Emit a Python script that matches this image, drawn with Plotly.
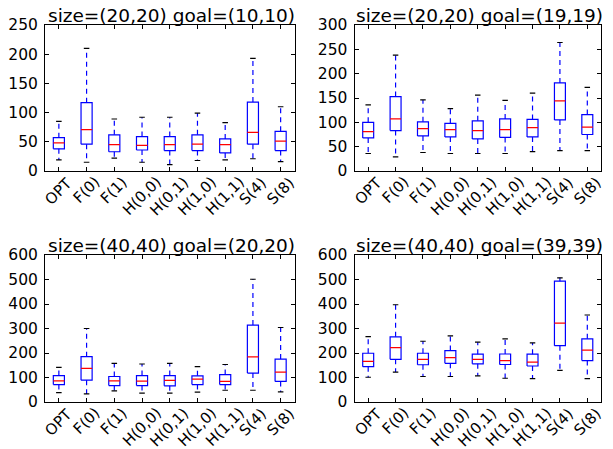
import plotly.graph_objects as go

categories = ["OPT", "F(0)", "F(1)", "H(0,0)", "H(0,1)", "H(1,0)", "H(1,1)", "S(4)", "S(8)"]
titles = ["size=(20,20) goal=(10,10)", "size=(20,20) goal=(19,19)",
          "size=(40,40) goal=(20,20)", "size=(40,40) goal=(39,39)"]

# panel 1: size=(20,20) goal=(10,10)
p1_low = [19, 15, 22, 15, 11, 18, 19, 21, 16]
p1_q1 = [38, 46, 33, 36, 35, 35, 31, 46, 35]
p1_med = [48, 71, 45, 44, 45, 46, 45, 66, 51]
p1_q3 = [57, 117, 62, 59, 59, 62, 55, 118, 68]
p1_high = [85, 210, 89, 92, 92, 99, 83, 193, 110]

# panel 2: size=(20,20) goal=(19,19)
p2_low = [36, 29, 38, 36, 36, 36, 40, 42, 42]
p2_q1 = [68, 83, 72, 70, 66, 69, 70, 105, 75]
p2_med = [81, 107, 87, 85, 83, 85, 89, 144, 90]
p2_q3 = [100, 153, 101, 98, 103, 107, 106, 181, 116]
p2_high = [136, 238, 146, 128, 156, 145, 160, 264, 172]

# panel 3: size=(40,40) goal=(20,20)
p3_low = [38, 33, 45, 36, 36, 40, 48, 48, 41]
p3_q1 = [71, 89, 67, 67, 66, 71, 71, 118, 84]
p3_med = [86, 137, 86, 85, 88, 93, 84, 184, 122]
p3_q3 = [108, 185, 104, 108, 108, 107, 112, 314, 175]
p3_high = [141, 300, 158, 155, 158, 144, 153, 501, 304]

# panel 4: size=(40,40) goal=(39,39)
p4_low = [101, 122, 104, 104, 107, 97, 95, 129, 95]
p4_q1 = [144, 174, 152, 158, 156, 153, 147, 230, 169]
p4_med = [166, 222, 174, 181, 174, 169, 163, 322, 212]
p4_q3 = [199, 266, 199, 210, 195, 196, 195, 493, 258]
p4_high = [267, 397, 248, 270, 244, 258, 241, 507, 355]

panels = [
    (p1_low, p1_q1, p1_med, p1_q3, p1_high),
    (p2_low, p2_q1, p2_med, p2_q3, p2_high),
    (p3_low, p3_q1, p3_med, p3_q3, p3_high),
    (p4_low, p4_q1, p4_med, p4_q3, p4_high),
]
y_ranges = [250, 300, 600, 600]
y_steps = [50, 50, 100, 100]

W = 613.0
H = 449.0
x_doms = [(45 / W, 294.5 / W), (354.5 / W, 601 / W), (45 / W, 294.5 / W), (354.5 / W, 601 / W)]
y_doms = [(1 - 171 / H, 1 - 25 / H), (1 - 171 / H, 1 - 25 / H),
          (1 - 402 / H, 1 - 255 / H), (1 - 402 / H, 1 - 255 / H)]

BOX_W = 0.4
CAP_W = 0.2
FONT = "DejaVu Sans"

fig = go.Figure()

for i, (low, q1, med, q3, high) in enumerate(panels):
    xa = "x" if i == 0 else f"x{i+1}"
    ya = "y" if i == 0 else f"y{i+1}"
    pos = list(range(1, len(categories) + 1))

    # whiskers (dashed blue), drawn from box edge outward
    wx, wy = [], []
    for p, a, b, c, d in zip(pos, q1, low, q3, high):
        wx += [p, p, None, p, p, None]
        wy += [a, b, None, c, d, None]
    fig.add_trace(go.Scatter(x=wx, y=wy, mode="lines", xaxis=xa, yaxis=ya,
                             line=dict(color="#0000ff", width=1.2, dash="5px,4px"),
                             hoverinfo="skip", showlegend=False))
    # caps (black)
    cx, cy = [], []
    for p, b, d in zip(pos, low, high):
        cx += [p - CAP_W / 2, p + CAP_W / 2, None, p - CAP_W / 2, p + CAP_W / 2, None]
        cy += [b, b, None, d, d, None]
    fig.add_trace(go.Scatter(x=cx, y=cy, mode="lines", xaxis=xa, yaxis=ya,
                             line=dict(color="black", width=1.2),
                             hoverinfo="skip", showlegend=False))
    # boxes (blue)
    bx, by = [], []
    for p, a, c in zip(pos, q1, q3):
        l, r = p - BOX_W / 2, p + BOX_W / 2
        bx += [l, r, r, l, l, None]
        by += [a, a, c, c, a, None]
    fig.add_trace(go.Scatter(x=bx, y=by, mode="lines", xaxis=xa, yaxis=ya,
                             line=dict(color="#0000ff", width=1.2),
                             hoverinfo="skip", showlegend=False))
    # medians (red)
    mx, my = [], []
    for p, m in zip(pos, med):
        mx += [p - BOX_W / 2, p + BOX_W / 2, None]
        my += [m, m, None]
    fig.add_trace(go.Scatter(x=mx, y=my, mode="lines", xaxis=xa, yaxis=ya,
                             line=dict(color="#ff0000", width=1.2),
                             hoverinfo="skip", showlegend=False))

    axis_common = dict(showline=True, linecolor="black", linewidth=1, mirror="allticks",
                       ticks="inside", ticklen=4, tickcolor="black", tickwidth=1,
                       showgrid=False, zeroline=False, automargin=False,
                       tickfont=dict(family=FONT, size=15.5, color="black"))
    xkey = "xaxis" if i == 0 else f"xaxis{i+1}"
    ykey = "yaxis" if i == 0 else f"yaxis{i+1}"
    fig.update_layout({
        xkey: dict(domain=list(x_doms[i]), anchor=ya, range=[0.5, 9.5],
                   tickmode="array", tickvals=pos, showticklabels=False,
                   **axis_common),
        ykey: dict(domain=list(y_doms[i]), anchor=xa, range=[0, y_ranges[i]],
                   tickmode="linear", tick0=0, dtick=y_steps[i],
                   ticklabelstandoff=3, **axis_common),
    })
    # rotated category labels, centred under each tick (matplotlib style)
    for p, lab in zip(pos, categories):
        fig.add_annotation(text=lab, x=p, xref=xa, y=y_doms[i][0], yref="paper",
                           xanchor="center", yanchor="top", textangle=-45,
                           showarrow=False, yshift=-1, borderpad=0,
                           font=dict(family=FONT, size=15, color="black"))
    fig.add_annotation(text=titles[i], xref="paper", yref="paper",
                       x=(x_doms[i][0] + x_doms[i][1]) / 2 + 2 / W, y=y_doms[i][1],
                       xanchor="center", yanchor="bottom", showarrow=False,
                       yshift=-2, borderpad=0,
                       font=dict(family=FONT, size=18.5, color="black"))

fig.update_layout(width=613, height=449, margin=dict(l=0, r=0, t=0, b=0),
                  template="none",
                  plot_bgcolor="white", paper_bgcolor="white",
                  font=dict(family=FONT, color="black"))

fig.write_html("out.html", config={"displayModeBar": False},
               post_script="document.body.style.margin='0px';")
